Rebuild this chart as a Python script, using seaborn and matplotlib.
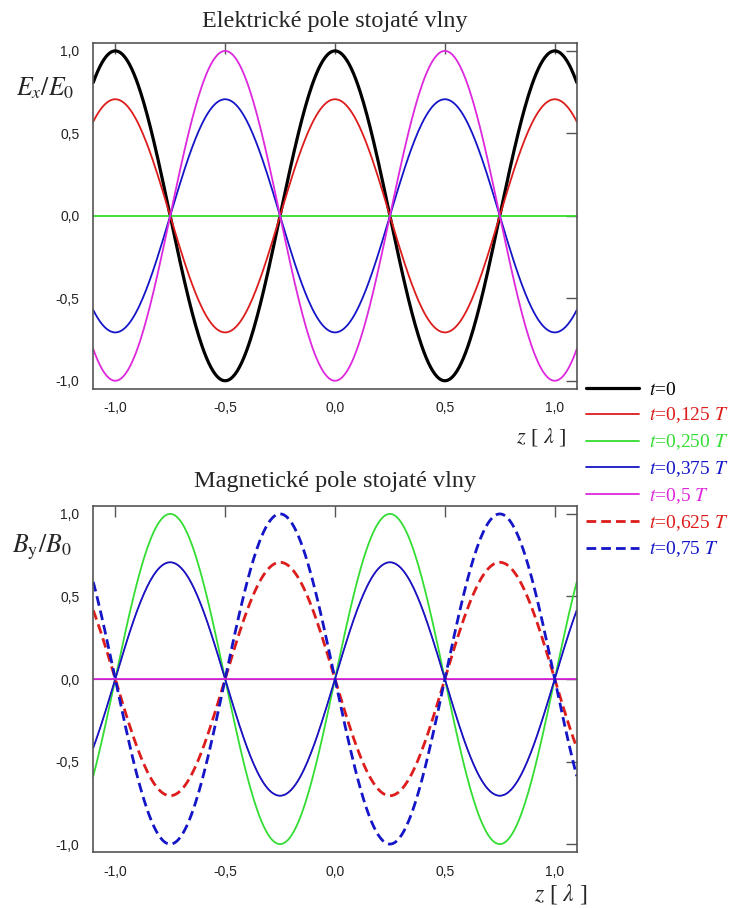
import numpy as np
import pandas as pd
import matplotlib
matplotlib.use('Agg')
import matplotlib.pyplot as plt
from matplotlib.ticker import FuncFormatter
import seaborn as sns

# time steps (fractions of the period T) and legend labels
times = [0, 0.125, 0.250, 0.375, 0.5, 0.625, 0.75]
labels = [r'$t$=0', r'$t$=0,125 $T$', r'$t$=0,250 $T$', r'$t$=0,375 $T$',
          r'$t$=0,5 $T$', r'$t$=0,625 $T$', r'$t$=0,75 $T$']
colors = ['#000000', '#dd1c1c', '#33dd33', '#1515c8', '#dd28dd', '#dd1c1c', '#1515c8']
dashed = [False, False, False, False, False, True, True]
widths = [2.3, 1.3, 1.3, 1.3, 1.3, 2.0, 2.0]

e_amp = [1.0, 0.707, 0.0, -0.707, -1.0]          # top panel only shows t = 0 .. 0.5 T
b_amp = [0.0, 0.707, 1.0, 0.707, 0.0, -0.707, -1.0]

z = np.linspace(-1.1, 1.1, 441)

sns.set_theme(style='white')
plt.rcParams['font.family'] = ['Liberation Serif', 'DejaVu Serif']
plt.rcParams['mathtext.fontset'] = 'stix'
plt.rcParams['axes.unicode_minus'] = False

fig = plt.figure(figsize=(7.41, 9.08), dpi=100)
ax1 = fig.add_axes([0.1259, 0.5716, 0.6524, 0.3814])
ax2 = fig.add_axes([0.1259, 0.0613, 0.6524, 0.3818])


def draw(ax, amps, shape, hidden=()):
    for i, a in enumerate(amps):
        df = pd.DataFrame({'z': z, 'v': a * shape})
        ls = (0, (3.5, 1.8)) if dashed[i] else '-'
        # curves that lie under a later one are drawn thin so they don't bleed through
        lw = 0.8 if i in hidden else widths[i]
        sns.lineplot(data=df, x='z', y='v', ax=ax, color=colors[i], lw=lw,
                     linestyle=ls, label=labels[i], legend=False)


draw(ax1, e_amp, np.cos(2 * np.pi * z))
draw(ax2, b_amp, np.sin(2 * np.pi * z), hidden=(0, 1))

fmt = FuncFormatter(lambda v, p: f'{v:.1f}'.replace('.', ','))
for ax in (ax1, ax2):
    ax.set_xlim(-1.1, 1.1)
    ax.set_ylim(-1.05, 1.05)
    ax.set_xticks([-1.0, -0.5, 0.0, 0.5, 1.0])
    ax.set_yticks([-1.0, -0.5, 0.0, 0.5, 1.0])
    ax.xaxis.set_major_formatter(fmt)
    ax.yaxis.set_major_formatter(fmt)
    ax.set_xlabel('')
    ax.set_ylabel('')
    ax.tick_params(direction='in', length=8, width=1, color='#555555',
                   top=True, right=True, labelsize=10, pad=9)
    ax.tick_params(axis='y', pad=10)
    for lab in ax.get_xticklabels() + ax.get_yticklabels():
        lab.set_family(['Liberation Sans', 'DejaVu Sans'])
        lab.set_color('#222222')
    for s in ax.spines.values():
        s.set_color('#555555')
        s.set_linewidth(1.2)

ax1.set_title('Elektrické pole stojaté vlny', fontsize=17.4, pad=11.3)
ax2.set_title('Magnetické pole stojaté vlny', fontsize=17.5, pad=13.5)

fig.text(16 / 741, 1 - 95 / 908, r'$E_x/E_0$', fontsize=18.5, va='baseline', ha='left')
fig.text(12 / 741, 1 - 552 / 908, r'$B_{\mathrm{y}}/B_0$', fontsize=18.5, va='baseline', ha='left')
fig.text(567 / 741, 1 - 442 / 908, r'$z$ [ $\lambda$ ]', fontsize=16, va='baseline', ha='right')
fig.text(588 / 741, 1 - 901 / 908, r'$z$ [ $\lambda$ ]', fontsize=17, va='baseline', ha='right')

h1, l1 = ax1.get_legend_handles_labels()
h2, l2 = ax2.get_legend_handles_labels()
handles = h1 + h2[5:]
labs = l1 + l2[5:]
leg = fig.legend(handles, labs, loc='upper left', bbox_to_anchor=(586 / 741, 1 - 381 / 908),
                 frameon=False, fontsize=14, handlelength=2.75, handletextpad=0.5,
                 labelspacing=0.36, borderpad=0, borderaxespad=0)
for txt, c in zip(leg.get_texts(), colors):
    txt.set_color(c)

fig.savefig('out.png', dpi=100)
